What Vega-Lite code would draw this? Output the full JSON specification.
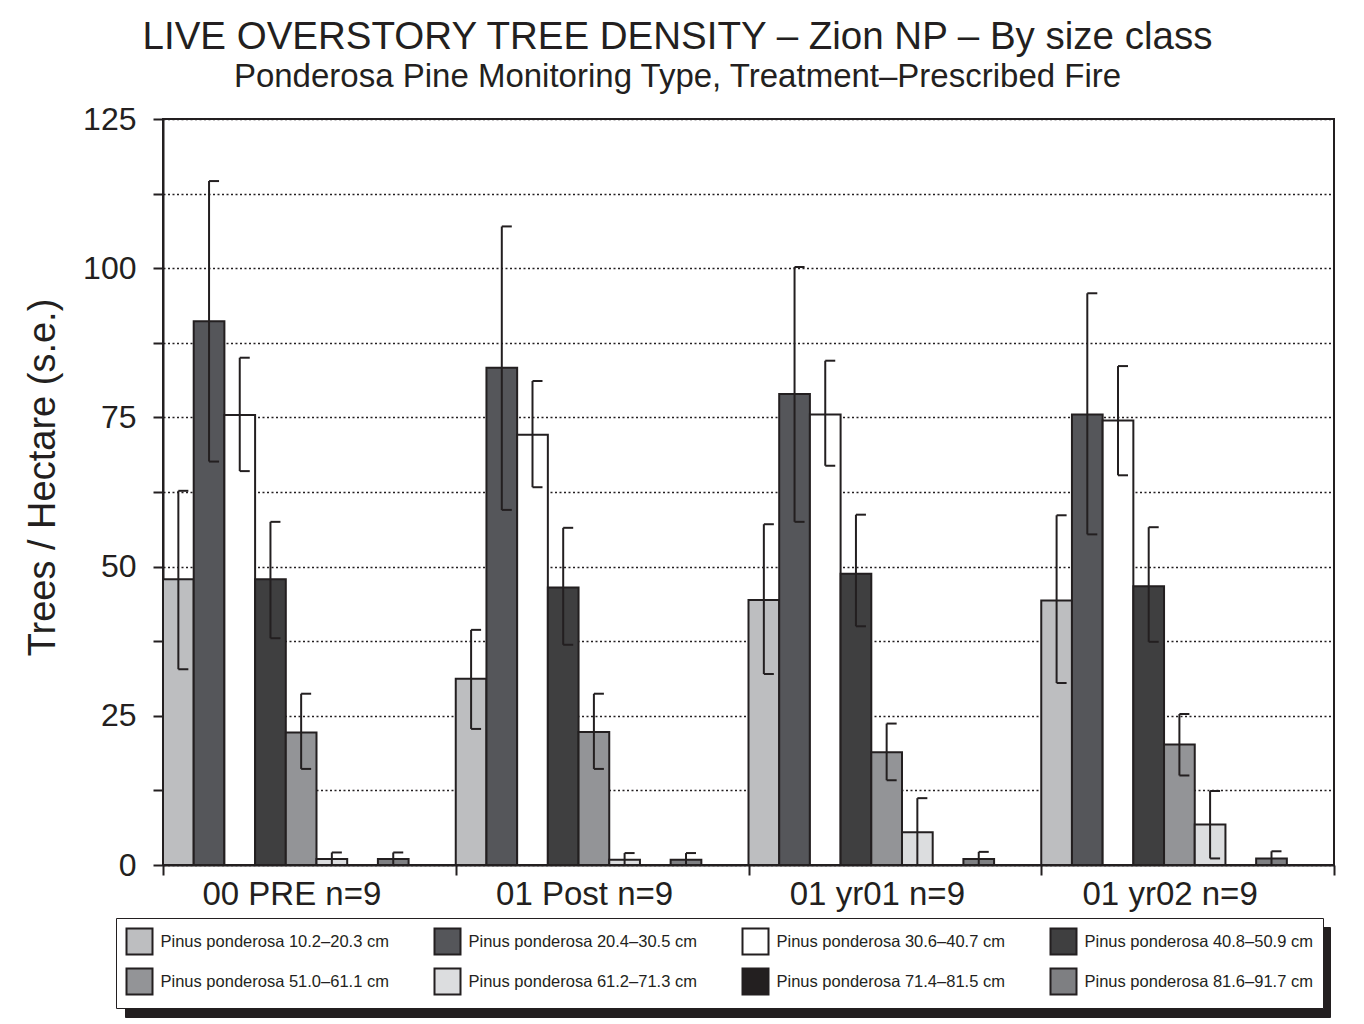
{
  "$schema": "https://vega.github.io/schema/vega-lite/v6.json",
  "width": 1171,
  "height": 746,
  "autosize": {"type": "none"},
  "padding": {"left": 163, "top": 119, "right": 30, "bottom": 159},
  "background": "white",
  "title": {
    "text": "LIVE OVERSTORY TREE DENSITY – Zion NP – By size class",
    "subtitle": "Ponderosa Pine Monitoring Type, Treatment–Prescribed Fire",
    "font": "Liberation Sans",
    "subtitleFont": "Liberation Sans",
    "fontSize": 38.5,
    "subtitleFontSize": 33,
    "fontWeight": "normal",
    "color": "#231f20",
    "subtitleColor": "#231f20",
    "anchor": "middle",
    "frame": "group",
    "dx": -71,
    "offset": 8,
    "subtitlePadding": 4
  },
  "data": {
    "values": [
      {"group": "00 PRE n=9", "series": "Pinus ponderosa 10.2–20.3 cm", "value": 47.9, "lo": 32.8, "hi": 62.7},
      {"group": "00 PRE n=9", "series": "Pinus ponderosa 20.4–30.5 cm", "value": 91.1, "lo": 67.6, "hi": 114.6},
      {"group": "00 PRE n=9", "series": "Pinus ponderosa 30.6–40.7 cm", "value": 75.4, "lo": 66.0, "hi": 85.0},
      {"group": "00 PRE n=9", "series": "Pinus ponderosa 40.8–50.9 cm", "value": 47.9, "lo": 38.0, "hi": 57.5},
      {"group": "00 PRE n=9", "series": "Pinus ponderosa 51.0–61.1 cm", "value": 22.2, "lo": 16.1, "hi": 28.7},
      {"group": "00 PRE n=9", "series": "Pinus ponderosa 61.2–71.3 cm", "value": 1.0, "lo": 0, "hi": 2.1},
      {"group": "00 PRE n=9", "series": "Pinus ponderosa 71.4–81.5 cm", "value": 0, "lo": null, "hi": null},
      {"group": "00 PRE n=9", "series": "Pinus ponderosa 81.6–91.7 cm", "value": 1.0, "lo": 0, "hi": 2.1},
      {"group": "01 Post n=9", "series": "Pinus ponderosa 10.2–20.3 cm", "value": 31.2, "lo": 22.8, "hi": 39.4},
      {"group": "01 Post n=9", "series": "Pinus ponderosa 20.4–30.5 cm", "value": 83.3, "lo": 59.5, "hi": 107.0},
      {"group": "01 Post n=9", "series": "Pinus ponderosa 30.6–40.7 cm", "value": 72.1, "lo": 63.3, "hi": 81.1},
      {"group": "01 Post n=9", "series": "Pinus ponderosa 40.8–50.9 cm", "value": 46.5, "lo": 36.9, "hi": 56.5},
      {"group": "01 Post n=9", "series": "Pinus ponderosa 51.0–61.1 cm", "value": 22.3, "lo": 16.1, "hi": 28.7},
      {"group": "01 Post n=9", "series": "Pinus ponderosa 61.2–71.3 cm", "value": 0.9, "lo": 0, "hi": 2.0},
      {"group": "01 Post n=9", "series": "Pinus ponderosa 71.4–81.5 cm", "value": 0, "lo": null, "hi": null},
      {"group": "01 Post n=9", "series": "Pinus ponderosa 81.6–91.7 cm", "value": 0.9, "lo": 0, "hi": 2.0},
      {"group": "01 yr01 n=9", "series": "Pinus ponderosa 10.2–20.3 cm", "value": 44.4, "lo": 32.0, "hi": 57.1},
      {"group": "01 yr01 n=9", "series": "Pinus ponderosa 20.4–30.5 cm", "value": 78.9, "lo": 57.5, "hi": 100.2},
      {"group": "01 yr01 n=9", "series": "Pinus ponderosa 30.6–40.7 cm", "value": 75.5, "lo": 66.9, "hi": 84.5},
      {"group": "01 yr01 n=9", "series": "Pinus ponderosa 40.8–50.9 cm", "value": 48.8, "lo": 40.0, "hi": 58.7},
      {"group": "01 yr01 n=9", "series": "Pinus ponderosa 51.0–61.1 cm", "value": 18.9, "lo": 14.2, "hi": 23.7},
      {"group": "01 yr01 n=9", "series": "Pinus ponderosa 61.2–71.3 cm", "value": 5.5, "lo": 0, "hi": 11.2},
      {"group": "01 yr01 n=9", "series": "Pinus ponderosa 71.4–81.5 cm", "value": 0, "lo": null, "hi": null},
      {"group": "01 yr01 n=9", "series": "Pinus ponderosa 81.6–91.7 cm", "value": 1.0, "lo": 0, "hi": 2.2},
      {"group": "01 yr02 n=9", "series": "Pinus ponderosa 10.2–20.3 cm", "value": 44.3, "lo": 30.5, "hi": 58.6},
      {"group": "01 yr02 n=9", "series": "Pinus ponderosa 20.4–30.5 cm", "value": 75.5, "lo": 55.4, "hi": 95.8},
      {"group": "01 yr02 n=9", "series": "Pinus ponderosa 30.6–40.7 cm", "value": 74.5, "lo": 65.3, "hi": 83.6},
      {"group": "01 yr02 n=9", "series": "Pinus ponderosa 40.8–50.9 cm", "value": 46.7, "lo": 37.4, "hi": 56.6},
      {"group": "01 yr02 n=9", "series": "Pinus ponderosa 51.0–61.1 cm", "value": 20.2, "lo": 15.0, "hi": 25.3},
      {"group": "01 yr02 n=9", "series": "Pinus ponderosa 61.2–71.3 cm", "value": 6.8, "lo": 1.1, "hi": 12.4},
      {"group": "01 yr02 n=9", "series": "Pinus ponderosa 71.4–81.5 cm", "value": 0, "lo": null, "hi": null},
      {"group": "01 yr02 n=9", "series": "Pinus ponderosa 81.6–91.7 cm", "value": 1.1, "lo": 0, "hi": 2.3}
    ]
  },
  "encoding": {
    "x": {
      "field": "group",
      "type": "nominal",
      "sort": null,
      "scale": {"paddingInner": 0, "paddingOuter": 0},
      "axis": {
        "title": null,
        "labelAngle": 0,
        "labelFont": "Liberation Sans",
        "labelFontSize": 33,
        "labelColor": "#231f20",
        "labelPadding": 3,
        "labelOffset": -18,
        "tickBand": "extent",
        "tickSize": 10,
        "tickWidth": 2,
        "tickColor": "#231f20",
        "domainColor": "#231f20",
        "domainWidth": 2,
        "grid": false
      }
    },
    "xOffset": {
      "field": "series",
      "type": "nominal",
      "sort": null,
      "scale": {"paddingInner": 0, "paddingOuter": 0.768, "align": 0}
    }
  },
  "layer": [
    {
      "mark": {"type": "bar", "strokeWidth": 2},
      "encoding": {
        "y": {
          "field": "value",
          "type": "quantitative",
          "scale": {"domain": [0, 125], "nice": false},
          "axis": {
            "title": "Trees / Hectare (s.e.)",
            "titleFont": "Liberation Sans",
            "titleFontSize": 38,
            "titleFontWeight": "normal",
            "titleColor": "#231f20",
            "titlePadding": 20,
            "titleY": 358,
            "values": [0, 12.5, 25, 37.5, 50, 62.5, 75, 87.5, 100, 112.5, 125],
            "labelExpr": "datum.value % 25 === 0 ? datum.label : ''",
            "labelFont": "Liberation Sans",
            "labelFontSize": 32,
            "labelColor": "#231f20",
            "labelPadding": 17,
            "tickSize": 10,
            "tickWidth": 2,
            "tickColor": "#231f20",
            "domainColor": "#231f20",
            "domainWidth": 2,
            "grid": true,
            "gridColor": "#231f20",
            "gridWidth": 1.5,
            "gridDash": [2, 2.5]
          }
        },
        "fill": {
          "field": "series",
          "type": "nominal",
          "sort": null,
          "scale": {
            "domain": ["Pinus ponderosa 10.2–20.3 cm", "Pinus ponderosa 20.4–30.5 cm", "Pinus ponderosa 30.6–40.7 cm", "Pinus ponderosa 40.8–50.9 cm", "Pinus ponderosa 51.0–61.1 cm", "Pinus ponderosa 61.2–71.3 cm", "Pinus ponderosa 71.4–81.5 cm", "Pinus ponderosa 81.6–91.7 cm"],
            "range": ["#bdbec0", "#55565a", "#ffffff", "#3f3f40", "#939497", "#dcdddf", "#231f20", "#7e7f82"]
          },
          "legend": {
            "title": null,
            "orient": "none",
            "legendX": -47,
            "legendY": 799,
            "direction": "horizontal",
            "columns": 4,
            "symbolType": "square",
            "symbolSize": 676,
            "symbolStrokeColor": "#231f20",
            "symbolStrokeWidth": 2,
            "labelFont": "Liberation Sans",
            "labelFontSize": 16.5,
            "labelColor": "#231f20",
            "labelLimit": 400,
            "labelOffset": 7,
            "columnPadding": 41,
            "rowPadding": 6,
            "padding": 9.5,
            "fillColor": "#ffffff",
            "strokeColor": "#231f20",
            "zindex": 2
          }
        },
        "stroke": {
          "field": "series",
          "type": "nominal",
          "sort": null,
          "scale": {
            "domain": ["Pinus ponderosa 81.6–91.7 cm", "Pinus ponderosa 71.4–81.5 cm", "Pinus ponderosa 61.2–71.3 cm", "Pinus ponderosa 51.0–61.1 cm", "Pinus ponderosa 40.8–50.9 cm", "Pinus ponderosa 30.6–40.7 cm", "Pinus ponderosa 20.4–30.5 cm", "Pinus ponderosa 10.2–20.3 cm"],
            "range": ["#231f20", "#231f20", "#231f20", "#231f20", "#231f20", "#231f20", "#231f20", "#231f20"]
          },
          "legend": {
            "title": null,
            "orient": "none",
            "legendX": -38,
            "legendY": 808,
            "direction": "horizontal",
            "columns": 4,
            "symbolType": "square",
            "symbolSize": 676,
            "symbolStrokeWidth": 2,
            "symbolFillColor": "#231f20",
            "labelExpr": "''",
            "labelOffset": 0,
            "columnPadding": 351,
            "rowPadding": 6,
            "padding": 9.5,
            "fillColor": "#231f20",
            "strokeColor": "#231f20",
            "zindex": 1
          }
        }
      }
    },
    {
      "mark": {"type": "rule", "color": "#231f20", "strokeWidth": 2},
      "encoding": {
        "y": {"field": "lo", "type": "quantitative"},
        "y2": {"field": "hi"}
      }
    },
    {
      "mark": {"type": "point", "shape": "M0,0H1", "size": 400, "filled": false, "color": "#231f20", "strokeWidth": 2, "opacity": 1},
      "encoding": {
        "y": {"field": "hi", "type": "quantitative"}
      }
    },
    {
      "mark": {"type": "point", "shape": "M0,0H1", "size": 400, "filled": false, "color": "#231f20", "strokeWidth": 2, "opacity": 1},
      "encoding": {
        "y": {"field": "lo", "type": "quantitative"}
      }
    }
  ],
  "config": {
    "view": {"stroke": "#231f20", "strokeWidth": 2}
  }
}
